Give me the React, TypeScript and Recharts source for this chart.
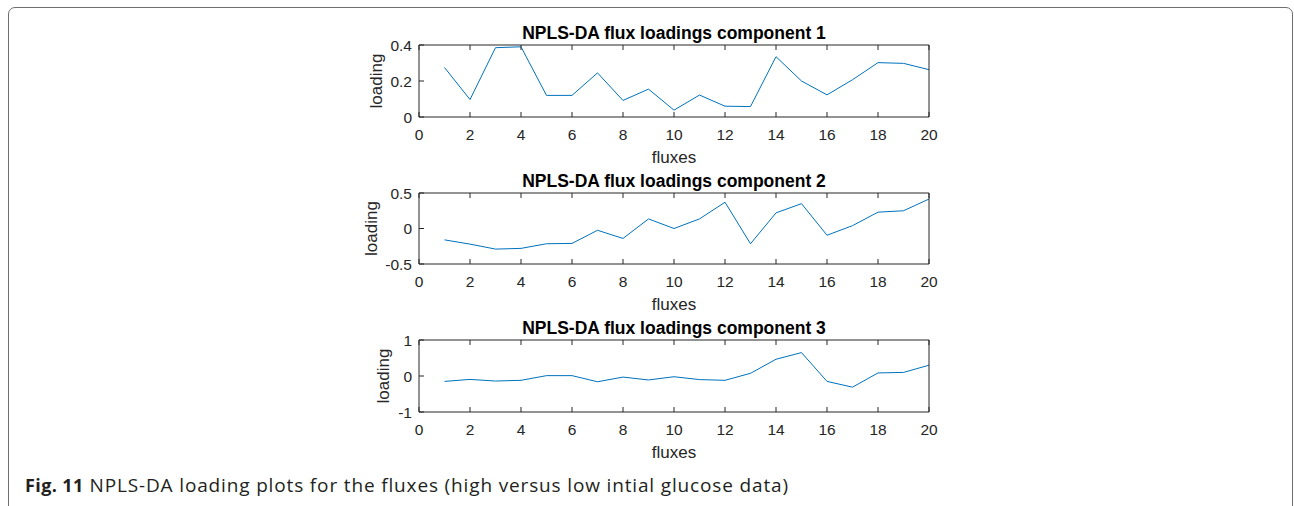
import React from 'react';
import { LineChart, Line, XAxis, YAxis } from 'recharts';

const fluxes = [1, 2, 3, 4, 5, 6, 7, 8, 9, 10, 11, 12, 13, 14, 15, 16, 17, 18, 19, 20];
const xTicks = [0, 2, 4, 6, 8, 10, 12, 14, 16, 18, 20];

const comp1 = [0.275, 0.097, 0.385, 0.39, 0.12, 0.12, 0.245, 0.092, 0.155, 0.038, 0.122, 0.06, 0.058, 0.335, 0.2, 0.123, 0.207, 0.302, 0.298, 0.263];
const comp2 = [-0.16, -0.22, -0.29, -0.28, -0.215, -0.21, -0.025, -0.14, 0.135, 0.0, 0.135, 0.37, -0.215, 0.22, 0.35, -0.095, 0.04, 0.23, 0.25, 0.415];
const comp3 = [-0.15, -0.095, -0.14, -0.12, 0.01, 0.01, -0.16, -0.03, -0.11, -0.02, -0.1, -0.12, 0.075, 0.465, 0.65, -0.15, -0.31, 0.085, 0.1, 0.3];

const yTicks1 = [0, 0.2, 0.4];
const yTicks2 = [-0.5, 0, 0.5];
const yTicks3 = [-1, 0, 1];

const titles = [
  'NPLS-DA flux loadings component 1',
  'NPLS-DA flux loadings component 2',
  'NPLS-DA flux loadings component 3',
];
const xLabel = 'fluxes';
const yLabel = 'loading';

const FONT = '"Liberation Sans", Arial, Helvetica, sans-serif';
const AX = '#262626';
const LINE = '#0072BD';
const FS = 15.5;
const LFS = 17;
const BOTTOM_H = 58;

type PanelProps = {
  title: string;
  values: number[];
  yTicks: number[];
  top: number;
  plotH: number;
  yLabelOffset: number;
};

function Panel({ title, values, yTicks, top, plotH, yLabelOffset }: PanelProps) {
  const data = fluxes.map((f, i) => ({ flux: f, loading: values[i] }));
  const dom = [yTicks[0], yTicks[yTicks.length - 1]];
  const H = 25 + plotH + BOTTOM_H;
  return (
    <div style={{ position: 'absolute', left: 0, top, width: 1294, height: H, pointerEvents: 'none' }}>
      <LineChart width={1294} height={H} data={data} margin={{ top: 5, right: 355, bottom: 0, left: 349 }}>
        <XAxis
          xAxisId="b"
          dataKey="flux"
          type="number"
          domain={[0, 20]}
          ticks={xTicks}
          interval={0}
          orientation="bottom"
          height={BOTTOM_H}
          stroke={AX}
          tickSize={-5}
          tickMargin={17}
          tick={{ fill: AX, fontSize: FS }}
          label={{ value: xLabel, position: 'insideBottom', offset: BOTTOM_H - 46, fill: AX, fontSize: LFS }}
        />
        <XAxis
          xAxisId="t"
          dataKey="flux"
          type="number"
          domain={[0, 20]}
          ticks={xTicks}
          interval={0}
          orientation="top"
          height={20}
          stroke={AX}
          tickSize={-5}
          tickFormatter={() => ''}
          label={{ value: title, position: 'top', offset: -13.5, fill: '#000', fontSize: 17.5, fontWeight: 'bold' }}
        />
        <YAxis
          yAxisId="l"
          type="number"
          domain={dom}
          ticks={yTicks}
          interval={0}
          width={70}
          stroke={AX}
          tickSize={-5}
          tickMargin={12}
          tick={{ fill: AX, fontSize: FS }}
          label={{ value: yLabel, angle: -90, position: 'insideLeft', offset: yLabelOffset, fill: AX, fontSize: LFS, style: { textAnchor: 'middle' } }}
        />
        <YAxis
          yAxisId="r"
          type="number"
          orientation="right"
          domain={dom}
          ticks={yTicks}
          interval={0}
          width={10}
          stroke={AX}
          tickSize={-5}
          tickFormatter={() => ''}
        />
        <Line
          xAxisId="b"
          yAxisId="l"
          dataKey="loading"
          type="linear"
          stroke={LINE}
          strokeWidth={1}
          dot={false}
          activeDot={false}
          isAnimationActive={false}
        />
      </LineChart>
    </div>
  );
}

export default function App() {
  return (
    <div style={{ position: 'absolute', left: 0, top: 0, width: 1294, height: 506, overflow: 'hidden', background: '#fff', fontFamily: FONT }}>
      <div
        style={{
          position: 'absolute',
          left: 8,
          top: 7,
          width: 1285,
          height: 600,
          border: '1px solid #6e6e6e',
          borderRadius: 7,
          boxSizing: 'border-box',
        }}
      />
      <Panel title={titles[0]} values={comp1} yTicks={yTicks1} top={20} plotH={72} yLabelOffset={27} />
      <Panel title={titles[1]} values={comp2} yTicks={yTicks2} top={168} plotH={71} yLabelOffset={22} />
      <Panel title={titles[2]} values={comp3} yTicks={yTicks3} top={315} plotH={72} yLabelOffset={34} />
      <div
        style={{
          position: 'absolute',
          left: 25,
          top: 472,
          fontFamily: '"Open Sans", Lato, sans-serif',
          fontSize: 18,
          color: '#231f20',
          whiteSpace: 'nowrap',
        }}
      >
        <b style={{ letterSpacing: 0.4 }}>Fig. 11</b>
        <span style={{ fontSize: 19, letterSpacing: 0.85 }}> NPLS-DA loading plots for the fluxes (high versus low intial glucose data)</span>
      </div>
    </div>
  );
}
